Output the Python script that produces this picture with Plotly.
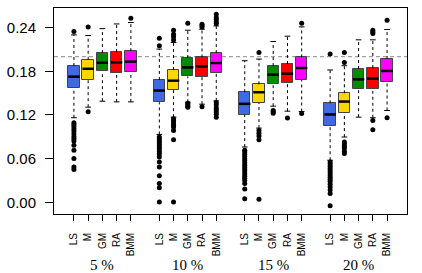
import plotly.graph_objects as go

groups = ["5 %", "10 %", "15 %", "20 %"]
methods = ["LS", "M", "GM", "RA", "BMM"]
colors = ["#4169E1", "#FFD700", "#008B00", "#FF0000", "#FF00FF"]
positions = [1, 2, 3, 4, 5, 7, 8, 9, 10, 11, 13, 14, 15, 16, 17, 19, 20, 21, 22, 23]
ref_level = 0.20

# box statistics, group-major order (5%: LS, M, GM, RA, BMM, then 10%, 15%, 20%)
q1 = [0.1570, 0.1685, 0.1799, 0.1780, 0.1790,
      0.1375, 0.1549, 0.1730, 0.1726, 0.1783,
      0.1203, 0.1367, 0.1630, 0.1635, 0.1681,
      0.1047, 0.1230, 0.1553, 0.1558, 0.1658]
medians = [0.1726, 0.1834, 0.1917, 0.1922, 0.1932,
           0.1535, 0.1671, 0.1853, 0.1867, 0.1913,
           0.1353, 0.1512, 0.1753, 0.1767, 0.1845,
           0.1207, 0.1384, 0.1689, 0.1699, 0.1804]
q3 = [0.1872, 0.1958, 0.2050, 0.2064, 0.2077,
      0.1681, 0.1818, 0.1982, 0.1990, 0.2050,
      0.1512, 0.1621, 0.1872, 0.1900, 0.1990,
      0.1361, 0.1498, 0.1831, 0.1845, 0.1968]
lower_whisker = [0.1162, 0.1307, 0.1389, 0.1380, 0.1380,
                 0.0933, 0.1170, 0.1375, 0.1348, 0.1394,
                 0.0760, 0.1020, 0.1321, 0.1252, 0.1248,
                 0.0578, 0.0897, 0.1170, 0.1162, 0.1261]
upper_whisker = [0.2300, 0.2291, 0.2386, 0.2450, 0.2470,
                 0.2105, 0.2195, 0.2364, 0.2378, 0.2423,
                 0.1945, 0.1968, 0.2209, 0.2282, 0.2410,
                 0.1818, 0.1876, 0.2232, 0.2232, 0.2373]
outliers = [
    [0.2347, 0.1093, 0.1069, 0.1042, 0.1010, 0.0979, 0.0943, 0.0906, 0.0875, 0.0842, 0.0783, 0.0715, 0.0601, 0.0487, 0.0451],
    [0.2409, 0.1244],
    [],
    [],
    [0.2528],
    [0.2255, 0.2150, 0.0897, 0.0870, 0.0842, 0.0815, 0.0788, 0.0760, 0.0733, 0.0700, 0.0665, 0.0623, 0.0555, 0.0487, 0.0364, 0.0260, 0.0200, 0.0004],
    [0.2364, 0.2309, 0.2273, 0.2228, 0.1148, 0.1120, 0.1090, 0.1060, 0.1034, 0.0988, 0.0861, 0.0004],
    [0.2460, 0.1361, 0.1340, 0.1320, 0.1307],
    [0.2446, 0.2430, 0.2409, 0.1312],
    [0.2583, 0.2540, 0.2510, 0.2480, 0.2455, 0.1370, 0.1340, 0.1300, 0.1270, 0.1240, 0.1210, 0.1170],
    [0.0715, 0.0690, 0.0660, 0.0630, 0.0600, 0.0570, 0.0540, 0.0510, 0.0480, 0.0450, 0.0420, 0.0390, 0.0360, 0.0330, 0.0300, 0.0260, 0.0182, 0.0049],
    [0.2058, 0.0988, 0.0950, 0.0910, 0.0861, 0.0041],
    [0.1261, 0.1245, 0.1225],
    [0.1157],
    [0.2460, 0.1220],
    [0.2036, 0.0555, 0.0525, 0.0495, 0.0465, 0.0435, 0.0405, 0.0375, 0.0345, 0.0315, 0.0285, 0.0250, 0.0210, 0.0170, 0.0123, -0.0046],
    [0.2058, 0.1922, 0.0829, 0.0800, 0.0770, 0.0740, 0.0700, 0.0670],
    [],
    [0.2364, 0.2340, 0.2318, 0.1125, 0.0998],
    [0.2501, 0.1162],
]
y_ticks = [0.00, 0.06, 0.12, 0.18, 0.24]

box_w = 0.8
cap_w = 0.4
box_colors = colors * len(groups)
tick_text = methods * len(groups)

fig = go.Figure()

# whiskers (dashed)
wx, wy = [], []
for p, a, b, c, d in zip(positions, lower_whisker, q1, q3, upper_whisker):
    wx += [p, p, None, p, p, None]
    wy += [a, b, None, c, d, None]
fig.add_trace(go.Scatter(x=wx, y=wy, mode="lines",
                         line=dict(color="black", width=1, dash="3px,3px"),
                         hoverinfo="skip", showlegend=False))

# caps
cx, cy = [], []
for p, a, d in zip(positions, lower_whisker, upper_whisker):
    cx += [p - cap_w / 2, p + cap_w / 2, None, p - cap_w / 2, p + cap_w / 2, None]
    cy += [a, a, None, d, d, None]
fig.add_trace(go.Scatter(x=cx, y=cy, mode="lines",
                         line=dict(color="black", width=1),
                         hoverinfo="skip", showlegend=False))

# boxes
fig.add_trace(go.Bar(x=positions, y=[b - a for a, b in zip(q1, q3)], base=q1,
                     width=box_w, marker=dict(color=box_colors,
                                              line=dict(color="#444444", width=1)),
                     showlegend=False))

# medians
mx, my = [], []
for p, m in zip(positions, medians):
    mx += [p - box_w / 2, p + box_w / 2, None]
    my += [m, m, None]
fig.add_trace(go.Scatter(x=mx, y=my, mode="lines",
                         line=dict(color="black", width=2.5),
                         hoverinfo="skip", showlegend=False))

# outliers
ox, oy = [], []
for p, pts in zip(positions, outliers):
    ox += [p] * len(pts)
    oy += pts
fig.add_trace(go.Scatter(x=ox, y=oy, mode="markers",
                         marker=dict(color="black", size=5),
                         hoverinfo="skip", showlegend=False))

fig.add_shape(type="line", xref="paper", x0=0, x1=1, yref="y", y0=ref_level, y1=ref_level,
              line=dict(color="#888888", width=1, dash="4px,3px"), layer="below")

for i, g in enumerate(groups):
    center = sum(positions[i * 5:(i + 1) * 5]) / 5
    fig.add_annotation(x=center, xref="x", y=-0.246, yref="paper", text=g,
                       showarrow=False, yanchor="middle",
                       font=dict(family="Liberation Serif", size=15, color="black"))

fig.update_layout(
    width=422, height=273,
    margin=dict(l=52, r=15, t=7, b=59),
    plot_bgcolor="white", paper_bgcolor="white",
    bargap=0,
    font=dict(family="Liberation Sans", color="black"),
)
fig.update_xaxes(range=[-0.4, 24.4], tickvals=positions, ticktext=tick_text,
                 tickangle=-90, ticks="outside", ticklen=6, tickcolor="black",
                 tickfont=dict(size=10), showgrid=False, zeroline=False,
                 showline=True, linecolor="black", linewidth=1, mirror=True,
                 ticklabelstandoff=8)
fig.update_yaxes(range=[-0.0160, 0.2669], tickvals=y_ticks,
                 ticktext=[f"{v:.2f}" for v in y_ticks],
                 ticks="outside", ticklen=8, tickcolor="black",
                 tickfont=dict(size=15), showgrid=False, zeroline=False,
                 showline=True, linecolor="black", linewidth=1, mirror=True,
                 ticklabelstandoff=6)

fig.write_html("out.html", config={"displayModeBar": False},
               post_script="document.body.style.margin='0';")
